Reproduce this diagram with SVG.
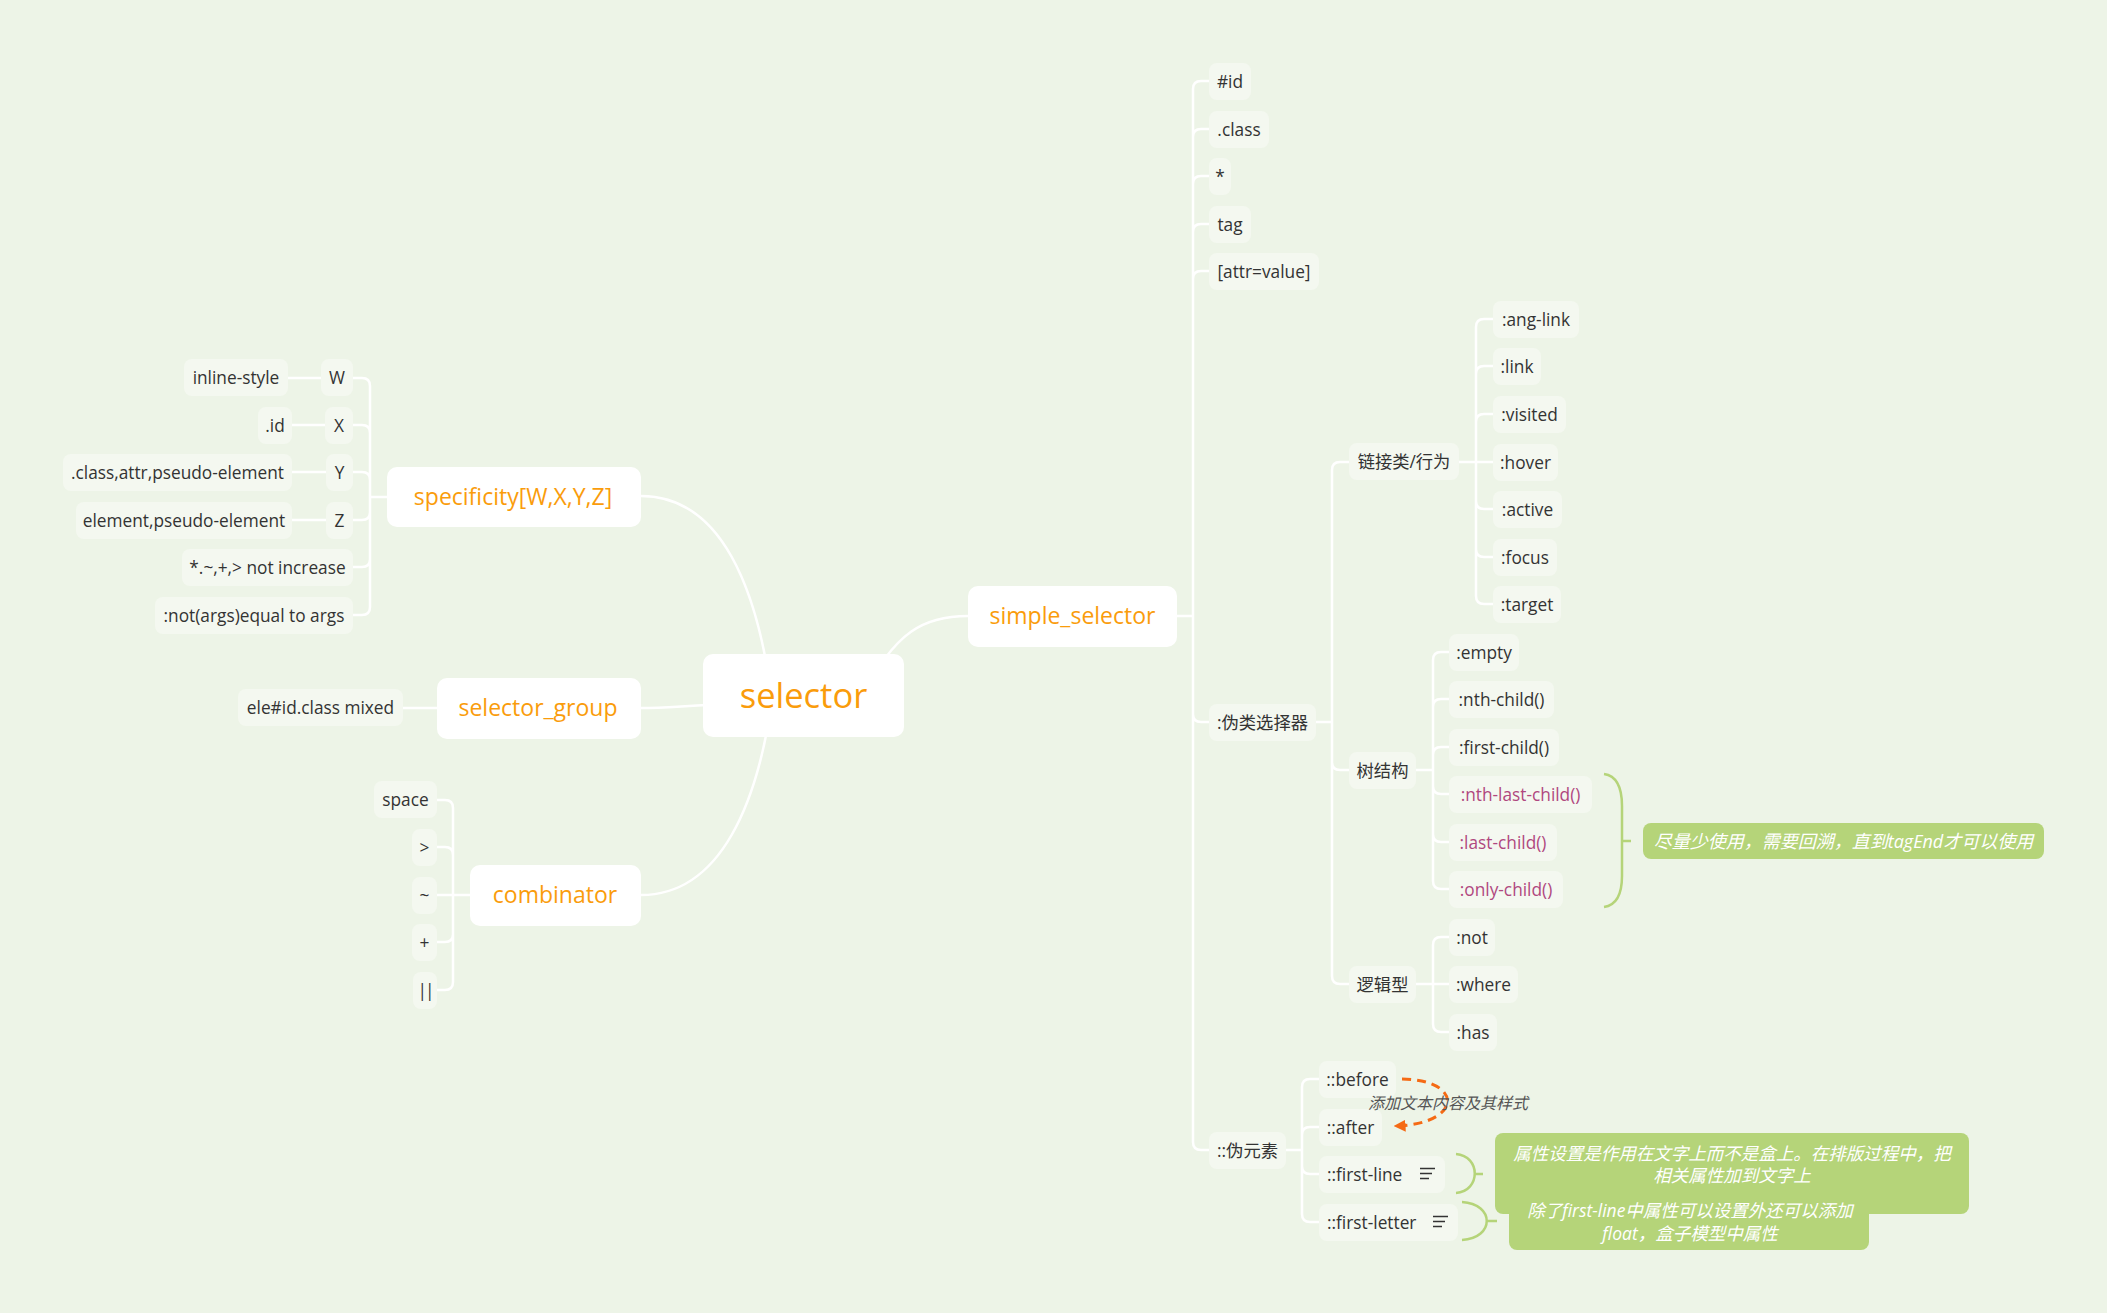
<svg xmlns="http://www.w3.org/2000/svg" width="2107" height="1313" viewBox="0 0 2107 1313">
<style>
.bg{fill:#EDF4E7}
.sub rect{fill:#F4F8F0}
.main rect,.root rect{fill:#FFFFFF}
text{font-family:"Open Sans","Noto Sans CJK SC",sans-serif;dominant-baseline:central}
.sub text{font-size:17.3px;fill:#333333;text-anchor:middle}
.sub text.pink{fill:#B0487F}
.main text{font-size:23px;fill:#FA9C0B;text-anchor:middle}
.root text{font-size:34.5px;fill:#FA9C0B;text-anchor:middle}
.conn{fill:none;stroke:#FFFFFF;stroke-width:2.5;stroke-linecap:round}
.brace{fill:none;stroke:#B5D479;stroke-width:2.5}
.callout rect{fill:#B5D479}
.callout text{font-size:17.5px;fill:#FFFFFF;font-style:italic;text-anchor:middle}
.rel{fill:none;stroke:#F56A14;stroke-width:3;stroke-dasharray:9 6}
.rellabel{font-size:16px;fill:#555555;font-style:italic}
.icon{stroke:#333333;stroke-width:1.6}
</style>
<defs>
<marker id="arr" viewBox="0 0 10 10" refX="8" refY="5" markerWidth="4" markerHeight="4" orient="auto" markerUnits="strokeWidth">
<path d="M0,0 L10,5 L0,10 z" fill="#F56A14"/>
</marker>
</defs>
<rect class="bg" x="0" y="0" width="2107" height="1313"/>

<g id="connectors">
<path class="conn" d="M641,496 C722,496 758,590 772,700"/>
<path class="conn" d="M641,708 C670,708 690,705 740,704"/>
<path class="conn" d="M641,895 C722,895 758,800 772,700"/>
<path class="conn" d="M968,616 C925,616 895,630 860,700"/>
<path class="conn" d="M387,497 H370 M370,497 V386 Q370,378 362,378 H353 M370,497 V433 Q370,425 362,425 H353 M370,497 V480 Q370,472 362,472 H353 M370,497 V512 Q370,520 362,520 H353 M370,497 V559 Q370,567 362,567 H353 M370,497 V607 Q370,615 362,615 H353 M321,378 H288 M325,425 H292 M326,472 H292 M326,520 H292"/>
<path class="conn" d="M437,708 H403"/>
<path class="conn" d="M470,895 H437 M453,895 V808 Q453,800 445,800 H437 M453,895 V855 Q453,847 445,847 H437 M453,895 V934 Q453,942 445,942 H437 M453,895 V982 Q453,990 445,990 H437"/>
<path class="conn" d="M1177,616 H1193 M1193,616 V89 Q1193,81 1201,81 H1209 M1193,616 V137 Q1193,129 1201,129 H1209 M1193,616 V184 Q1193,176 1201,176 H1209 M1193,616 V232 Q1193,224 1201,224 H1209 M1193,616 V279 Q1193,271 1201,271 H1209 M1193,616 V714 Q1193,722 1201,722 H1209 M1193,616 V1142 Q1193,1150 1201,1150 H1209"/>
<path class="conn" d="M1316,722 H1332 M1332,722 V470 Q1332,462 1340,462 H1349 M1332,722 V762 Q1332,770 1340,770 H1349 M1332,722 V976 Q1332,984 1340,984 H1349"/>
<path class="conn" d="M1459,462 H1493 M1476,462 V327 Q1476,319 1484,319 H1493 M1476,462 V374 Q1476,366 1484,366 H1493 M1476,462 V422 Q1476,414 1484,414 H1493 M1476,462 V501 Q1476,509 1484,509 H1493 M1476,462 V549 Q1476,557 1484,557 H1493 M1476,462 V596 Q1476,604 1484,604 H1493"/>
<path class="conn" d="M1416,770 H1433 M1433,770 V660 Q1433,652 1441,652 H1449 M1433,770 V707 Q1433,699 1441,699 H1449 M1433,770 V755 Q1433,747 1441,747 H1449 M1433,770 V786 Q1433,794 1441,794 H1449 M1433,770 V834 Q1433,842 1441,842 H1449 M1433,770 V881 Q1433,889 1441,889 H1449"/>
<path class="conn" d="M1416,984 H1449 M1433,984 V945 Q1433,937 1441,937 H1449 M1433,984 V1024 Q1433,1032 1441,1032 H1449"/>
<path class="conn" d="M1286,1150 H1302 M1302,1150 V1087 Q1302,1079 1310,1079 H1319 M1302,1150 V1135 Q1302,1127 1310,1127 H1319 M1302,1150 V1166 Q1302,1174 1310,1174 H1319 M1302,1150 V1214 Q1302,1222 1310,1222 H1319"/>
<path class="rel" d="M1402,1079 C1465,1080 1462,1124 1396,1126" marker-end="url(#arr)"/>
</g>

<g id="root" class="root"><rect x="703" y="654" width="201" height="83" rx="10"/><text x="803.5" y="694">selector</text></g>

<g id="specificity" class="main"><rect x="387" y="467" width="254" height="60" rx="10"/><text x="513" y="496">specificity[W,X,Y,Z]</text></g>
<g id="selector_group" class="main"><rect x="437" y="678" width="204" height="61" rx="10"/><text x="538" y="707">selector_group</text></g>
<g id="combinator" class="main"><rect x="470" y="865" width="171" height="61" rx="10"/><text x="555" y="894">combinator</text></g>
<g id="simple_selector" class="main"><rect x="968" y="586" width="209" height="61" rx="10"/><text x="1072.5" y="615">simple_selector</text></g>

<g id="n-inline-style" class="sub"><rect x="184" y="359" width="104" height="37" rx="8"/><text x="236" y="377.5">inline-style</text></g>
<g id="n-W" class="sub"><rect x="321" y="359" width="32" height="37" rx="8"/><text x="337" y="377.5">W</text></g>
<g id="n-dotid" class="sub"><rect x="258" y="407" width="34" height="37" rx="8"/><text x="275" y="425">.id</text></g>
<g id="n-X" class="sub"><rect x="325" y="407" width="28" height="37" rx="8"/><text x="339" y="425">X</text></g>
<g id="n-class-attr" class="sub"><rect x="63" y="454" width="229" height="37" rx="8"/><text x="177.5" y="472.5">.class,attr,pseudo-element</text></g>
<g id="n-Y" class="sub"><rect x="326" y="454" width="27" height="37" rx="8"/><text x="339.5" y="472.5">Y</text></g>
<g id="n-element" class="sub"><rect x="76" y="502" width="216" height="37" rx="8"/><text x="184" y="520.5">element,pseudo-element</text></g>
<g id="n-Z" class="sub"><rect x="326" y="502" width="27" height="37" rx="8"/><text x="339.5" y="520.5">Z</text></g>
<g id="n-notincrease" class="sub"><rect x="182" y="549" width="171" height="37" rx="8"/><text x="267.5" y="567.5">*.~,+,&gt; not increase</text></g>
<g id="n-notargs" class="sub"><rect x="155" y="597" width="198" height="37" rx="8"/><text x="254" y="615">:not(args)equal to args</text></g>

<g id="n-mixed" class="sub"><rect x="238" y="689" width="165" height="37" rx="8"/><text x="320.5" y="707.5">ele#id.class mixed</text></g>

<g id="n-space" class="sub"><rect x="374" y="781" width="63" height="37" rx="8"/><text x="405.5" y="799.5">space</text></g>
<g id="n-gt" class="sub"><rect x="412" y="829" width="25" height="37" rx="8"/><text x="424.5" y="847.5">&gt;</text></g>
<g id="n-tilde" class="sub"><rect x="412" y="877" width="25" height="37" rx="8"/><text x="424.5" y="895">~</text></g>
<g id="n-plus" class="sub"><rect x="412" y="924" width="25" height="37" rx="8"/><text x="424.5" y="942.5">+</text></g>
<g id="n-or" class="sub"><rect x="413" y="972" width="24" height="37" rx="8"/><text x="425" y="990" style="letter-spacing:-2px">||</text></g>

<g id="n-hashid" class="sub"><rect x="1209" y="63" width="42" height="37" rx="8"/><text x="1230" y="81">#id</text></g>
<g id="n-class" class="sub"><rect x="1209" y="111" width="60" height="37" rx="8"/><text x="1239" y="129">.class</text></g>
<g id="n-star" class="sub"><rect x="1209" y="158" width="22" height="37" rx="8"/><text x="1220" y="176">*</text></g>
<g id="n-tag" class="sub"><rect x="1209" y="206" width="42" height="37" rx="8"/><text x="1230" y="224">tag</text></g>
<g id="n-attr" class="sub"><rect x="1209" y="253" width="110" height="37" rx="8"/><text x="1264" y="271">[attr=value]</text></g>
<g id="n-pseudo-class" class="sub"><rect x="1209" y="704" width="107" height="37" rx="8"/><text x="1262.5" y="722">:伪类选择器</text></g>

<g id="n-link-group" class="sub"><rect x="1349" y="443" width="110" height="37" rx="8"/><text x="1404" y="461.5">链接类/行为</text></g>
<g id="n-anglink" class="sub"><rect x="1493" y="301" width="86" height="37" rx="8"/><text x="1536" y="319">:ang-link</text></g>
<g id="n-link" class="sub"><rect x="1493" y="348" width="48" height="37" rx="8"/><text x="1517" y="366">:link</text></g>
<g id="n-visited" class="sub"><rect x="1493" y="396" width="73" height="37" rx="8"/><text x="1529.5" y="414">:visited</text></g>
<g id="n-hover" class="sub"><rect x="1493" y="444" width="65" height="37" rx="8"/><text x="1525.5" y="462">:hover</text></g>
<g id="n-active" class="sub"><rect x="1493" y="491" width="69" height="37" rx="8"/><text x="1527.5" y="509">:active</text></g>
<g id="n-focus" class="sub"><rect x="1493" y="539" width="64" height="37" rx="8"/><text x="1525" y="557">:focus</text></g>
<g id="n-target" class="sub"><rect x="1493" y="586" width="68" height="37" rx="8"/><text x="1527" y="604">:target</text></g>

<g id="n-tree" class="sub"><rect x="1349" y="752" width="67" height="37" rx="8"/><text x="1382.5" y="770">树结构</text></g>
<g id="n-empty" class="sub"><rect x="1449" y="634" width="70" height="37" rx="8"/><text x="1484" y="652">:empty</text></g>
<g id="n-nthchild" class="sub"><rect x="1449" y="681" width="105" height="37" rx="8"/><text x="1501.5" y="699">:nth-child()</text></g>
<g id="n-firstchild" class="sub"><rect x="1449" y="729" width="110" height="37" rx="8"/><text x="1504" y="747">:first-child()</text></g>
<g id="n-nthlastchild" class="sub"><rect x="1449" y="776" width="143" height="37" rx="8"/><text class="pink" x="1520.5" y="794">:nth-last-child()</text></g>
<g id="n-lastchild" class="sub"><rect x="1449" y="824" width="108" height="37" rx="8"/><text class="pink" x="1503" y="842">:last-child()</text></g>
<g id="n-onlychild" class="sub"><rect x="1449" y="871" width="114" height="37" rx="8"/><text class="pink" x="1506" y="889">:only-child()</text></g>

<g id="n-logic" class="sub"><rect x="1349" y="966" width="67" height="37" rx="8"/><text x="1382.5" y="984">逻辑型</text></g>
<g id="n-not" class="sub"><rect x="1449" y="919" width="46" height="37" rx="8"/><text x="1472" y="937">:not</text></g>
<g id="n-where" class="sub"><rect x="1449" y="966" width="69" height="37" rx="8"/><text x="1483.5" y="984">:where</text></g>
<g id="n-has" class="sub"><rect x="1449" y="1014" width="48" height="37" rx="8"/><text x="1473" y="1032">:has</text></g>

<g id="n-pseudo-element" class="sub"><rect x="1209" y="1132" width="77" height="37" rx="8"/><text x="1247.5" y="1150">::伪元素</text></g>
<g id="n-before" class="sub"><rect x="1319" y="1061" width="77" height="37" rx="8"/><text x="1357.5" y="1079">::before</text></g>
<g id="n-after" class="sub"><rect x="1319" y="1109" width="63" height="37" rx="8"/><text x="1350.5" y="1127">::after</text></g>
<g id="n-firstline" class="sub"><rect x="1319" y="1156" width="126" height="37" rx="8"/><text x="1327" y="1174" style="text-anchor:start">::first-line</text>
<path class="icon" d="M1420,1168.5 H1435 M1420,1173.5 H1432 M1420,1178.5 H1429"/></g>
<g id="n-firstletter" class="sub"><rect x="1319" y="1204" width="139" height="37" rx="8"/><text x="1327" y="1222" style="text-anchor:start">::first-letter</text>
<path class="icon" d="M1433,1216.5 H1448 M1433,1221.5 H1445 M1433,1226.5 H1442"/></g>

<text class="rellabel" x="1368" y="1103">添加文本内容及其样式</text>

<g id="summaries">
<path class="brace" d="M1604,774 C1618,776 1622,790 1622,806 V876 C1622,892 1618,905 1604,907 M1622,841 H1631"/>
<path class="brace" d="M1456,1154 C1481,1156 1481,1191 1456,1193 M1475,1174 H1483"/>
<path class="brace" d="M1462,1202 C1495,1204 1495,1238 1462,1240 M1487,1221 H1497"/>
</g>

<g id="callout-backtrack" class="callout"><rect x="1643" y="823" width="401" height="36" rx="8"/><text x="1843.5" y="841" style="font-size:18px">尽量少使用，需要回溯，直到tagEnd才可以使用</text></g>
<g id="callout-firstletter" class="callout"><rect x="1509" y="1190" width="360" height="60" rx="8"/></g>
<g id="callout-firstline" class="callout"><rect x="1495" y="1133" width="474" height="81" rx="8"/><text x="1732" y="1153">属性设置是作用在文字上而不是盒上。在排版过程中，把</text><text x="1732" y="1175">相关属性加到文字上</text></g>
<g id="callout-firstletter-text" class="callout"><text x="1690" y="1210">除了first-line中属性可以设置外还可以添加</text><text x="1690" y="1233">float，盒子模型中属性</text></g>
</svg>
